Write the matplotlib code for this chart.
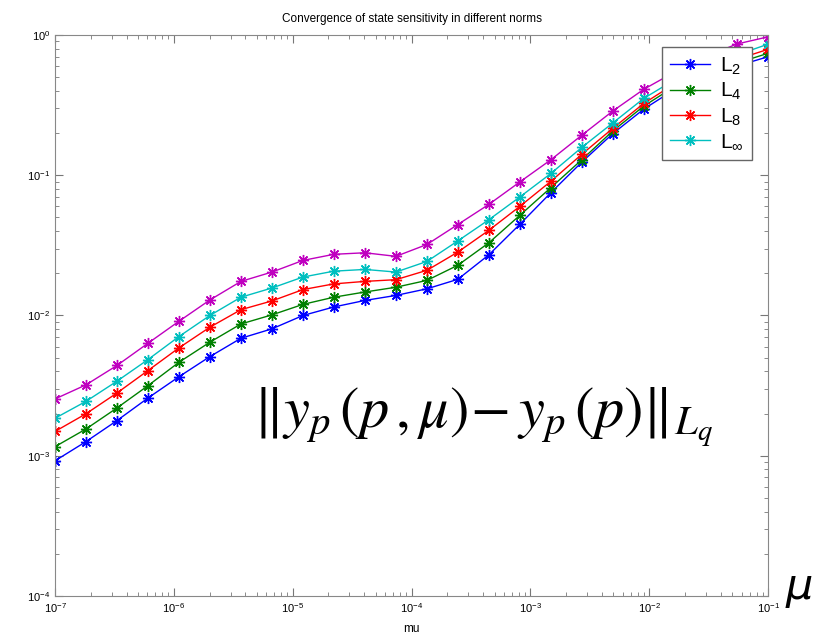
import matplotlib
matplotlib.use('Agg')
import matplotlib.pyplot as plt
import numpy as np

# regularisation parameter values (24 points, log spaced)
mu = [1.0e-7, 1.82e-7, 3.32e-7, 6.06e-7, 1.105e-6, 2.01e-6, 3.67e-6, 6.69e-6,
      1.22e-5, 2.22e-5, 4.05e-5, 7.39e-5, 1.35e-4, 2.45e-4, 4.48e-4, 8.16e-4,
      1.49e-3, 2.71e-3, 4.94e-3, 9.0e-3, 1.64e-2, 2.99e-2, 5.46e-2, 1.0e-1]

err_L2 = [9.2e-4, 1.26e-3, 1.78e-3, 2.58e-3, 3.66e-3, 5.09e-3, 6.88e-3, 8.03e-3,
          1.0e-2, 1.15e-2, 1.28e-2, 1.39e-2, 1.55e-2, 1.81e-2, 2.71e-2, 4.47e-2,
          7.52e-2, 0.124, 0.198, 0.296, 0.41, 0.50, 0.60, 0.70]
err_L4 = [1.16e-3, 1.55e-3, 2.19e-3, 3.16e-3, 4.64e-3, 6.45e-3, 8.7e-3, 1.01e-2,
          1.2e-2, 1.35e-2, 1.47e-2, 1.59e-2, 1.78e-2, 2.28e-2, 3.3e-2, 5.18e-2,
          8.17e-2, 0.129, 0.207, 0.311, 0.43, 0.525, 0.63, 0.74]
err_L8 = [1.49e-3, 1.99e-3, 2.8e-3, 4.05e-3, 5.88e-3, 8.25e-3, 1.1e-2, 1.27e-2,
          1.53e-2, 1.68e-2, 1.75e-2, 1.8e-2, 2.1e-2, 2.83e-2, 4.05e-2, 6.0e-2,
          9.06e-2, 0.141, 0.216, 0.325, 0.45, 0.55, 0.67, 0.79]
err_Linf = [1.85e-3, 2.44e-3, 3.4e-3, 4.85e-3, 7.08e-3, 1.0e-2, 1.35e-2, 1.57e-2,
            1.88e-2, 2.07e-2, 2.13e-2, 2.04e-2, 2.43e-2, 3.4e-2, 4.82e-2, 7.0e-2,
            0.103, 0.158, 0.236, 0.353, 0.48, 0.595, 0.72, 0.86]
err_top = [2.54e-3, 3.2e-3, 4.4e-3, 6.34e-3, 9.1e-3, 1.29e-2, 1.75e-2, 2.04e-2,
           2.47e-2, 2.73e-2, 2.8e-2, 2.64e-2, 3.21e-2, 4.45e-2, 6.2e-2, 8.96e-2,
           0.129, 0.193, 0.287, 0.41, 0.545, 0.70, 0.862, 0.97]

labels = [r'$\mathrm{L}_2$', r'$\mathrm{L}_4$', r'$\mathrm{L}_8$', r'$\mathrm{L}_\infty$']

plt.rcParams['font.family'] = ['Liberation Sans', 'DejaVu Sans']
plt.rcParams['mathtext.fontset'] = 'custom'
plt.rcParams['mathtext.rm'] = 'Liberation Sans'

fig = plt.figure(figsize=(8.35, 6.42), dpi=100)
ax = fig.add_axes([0.0659, 0.0717, 0.8539, 0.8738])

# matlab style asterisk marker
star = (8, 2, 0)
kw = dict(lw=1, marker=star, ms=8, mew=1)
ax.loglog(mu, err_L2, '-', color='b', label=labels[0], **kw)
ax.loglog(mu, err_L4, '-', color=(0, 0.5, 0), label=labels[1], **kw)
ax.loglog(mu, err_L8, '-', color='r', label=labels[2], **kw)
ax.loglog(mu, err_Linf, '-', color='c', label=labels[3], **kw)
ax.loglog(mu, err_top, '-', color='m', **kw)

ax.set_xlim(1e-7, 1e-1)
ax.set_ylim(1e-4, 1e0)
ax.tick_params(which='both', direction='in', top=True, right=True,
               labelsize=8, color='#777777')
ax.tick_params(which='major', length=6)
ax.tick_params(which='minor', length=3)
for s in ax.spines.values():
    s.set_color('#888888')

ax.set_title('Convergence of state sensitivity in different norms', fontsize=8.5, pad=9)
ax.set_xlabel('mu', fontsize=8.5, labelpad=6)

leg = ax.legend(loc='upper right', bbox_to_anchor=(0.978, 0.979), borderaxespad=0,
                fontsize=15, fancybox=False, framealpha=1, handlelength=1.9,
                borderpad=0.4, labelspacing=0.2, handletextpad=0.5)
leg.get_frame().set_edgecolor('#666666')

# large annotations
fig.text(0.303, 0.333, r'$\Vert y_p\,(p\,,\mu)\!-y_p\,(p)\Vert_{L_q}$', fontsize=42,
         math_fontfamily='stix')
fig.text(0.94, 0.067, r'$\mu$', fontsize=31, math_fontfamily='dejavusans')

fig.savefig('out.png', dpi=100)
